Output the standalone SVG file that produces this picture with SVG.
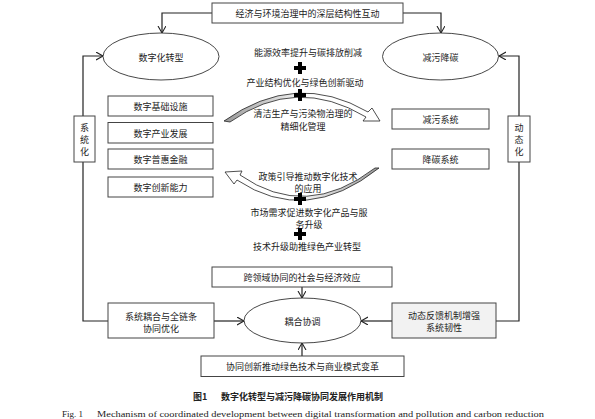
<svg xmlns="http://www.w3.org/2000/svg" width="595" height="419" viewBox="0 0 595 419">
<style>
.t{font-family:"Noto Sans CJK SC","Noto Sans",sans-serif;font-size:9px;fill:#222;text-anchor:middle;dominant-baseline:central}
.box{fill:#fff;stroke:#444;stroke-width:1}
.ell{fill:#fff;stroke:#333;stroke-width:0.9}
.ln{fill:none;stroke:#222;stroke-width:1.2}
.cv{stroke:#222;stroke-width:0.8}
</style>
<defs>
<marker id="ah" markerWidth="10" markerHeight="10" refX="7" refY="4" orient="auto" markerUnits="userSpaceOnUse">
<path d="M0,0 L7,4 L0,8" fill="none" stroke="#222" stroke-width="1.1"/>
</marker>
<linearGradient id="g1" x1="0" y1="0" x2="1" y2="0">
<stop offset="0" stop-color="#999"/><stop offset="0.55" stop-color="#fff"/><stop offset="1" stop-color="#fff"/>
</linearGradient>
<linearGradient id="g2" x1="1" y1="0" x2="0" y2="0">
<stop offset="0" stop-color="#999"/><stop offset="0.55" stop-color="#fff"/><stop offset="1" stop-color="#fff"/>
</linearGradient>
<path id="plus" d="M-2,-6 H2 V-2 H6 V2 H2 V6 H-2 V2 H-6 V-2 H-2 Z" fill="#000"/>
</defs>

<g id="connectors">
<path class="ln" d="M212,13 H162 V33" marker-end="url(#ah)"/>
<path class="ln" d="M403,13 H441 V33" marker-end="url(#ah)"/>
<path class="ln" d="M108,321 H83 V56 H103" marker-end="url(#ah)"/>
<path class="ln" d="M496,321 H519 V56 H499" marker-end="url(#ah)"/>
<path class="ln" d="M214,321 H244" marker-end="url(#ah)"/>
<path class="ln" d="M392,321 H361" marker-end="url(#ah)"/>
<path class="ln" d="M302,287 V298" marker-end="url(#ah)"/>
<path class="ln" d="M302,356 V343" marker-end="url(#ah)"/>
</g>

<g id="top-box">
<rect class="box" x="212" y="3" width="191" height="20"/>
<text class="t" x="307.5" y="13">经济与环境治理中的深层结构性互动</text>
</g>

<g id="digital">
<ellipse class="ell" cx="161" cy="56.5" rx="58" ry="23.5"/>
<text class="t" x="161" y="57">数字化转型</text>
</g>
<g id="reduction">
<ellipse class="ell" cx="440.5" cy="56.5" rx="58" ry="23.5"/>
<text class="t" x="440.5" y="57">减污降碳</text>
</g>

<g id="systematize">
<rect class="box" x="74" y="116" width="21" height="46"/>
<text class="t" x="84.5" y="127.5">系</text>
<text class="t" x="84.5" y="139.5">统</text>
<text class="t" x="84.5" y="151.5">化</text>
</g>
<g id="dynamize">
<rect class="box" x="508" y="116" width="22" height="46"/>
<text class="t" x="519" y="127.5">动</text>
<text class="t" x="519" y="139.5">态</text>
<text class="t" x="519" y="151.5">化</text>
</g>

<g id="d1"><rect class="box" x="108" y="96" width="105" height="20"/><text class="t" x="160.5" y="106">数字基础设施</text></g>
<g id="d2"><rect class="box" x="108" y="122.5" width="105" height="20.5"/><text class="t" x="160.5" y="133">数字产业发展</text></g>
<g id="d3"><rect class="box" x="108" y="149" width="105" height="20"/><text class="t" x="160.5" y="159">数字普惠金融</text></g>
<g id="d4"><rect class="box" x="108" y="177" width="105" height="20"/><text class="t" x="160.5" y="187">数字创新能力</text></g>

<g id="r1"><rect class="box" x="392" y="109" width="97" height="20"/><text class="t" x="440.5" y="119">减污系统</text></g>
<g id="r2"><rect class="box" x="392" y="149" width="97" height="20"/><text class="t" x="440.5" y="159">降碳系统</text></g>

<g id="upper-mechanism">
<text class="t" x="308" y="52">能源效率提升与碳排放削减</text>
<use href="#plus" x="300" y="68"/>
<text class="t" x="305" y="82">产业结构优化与绿色创新驱动</text>
<path class="cv" fill="url(#g1)" d="M224,121 Q296,70 368,112 L372,108 L380,121 L363,121 L366,117 Q296,75 230,122 Z"/>
<use href="#plus" x="300" y="95"/>
<text class="t" x="303" y="113">清洁生产与污染物治理的</text>
<text class="t" x="303" y="126">精细化管理</text>
</g>

<g id="lower-mechanism">
<path class="cv" fill="url(#g2)" d="M379,168 Q306,226 237,180 L234,184 L225,172 L242,171 L240,175 Q306,221 375,168 Z"/>
<text class="t" x="308" y="176">政策引导推动数字化技术</text>
<text class="t" x="308" y="188">的应用</text>
<use href="#plus" x="300" y="199"/>
<text class="t" x="309" y="212">市场需求促进数字化产品与服</text>
<text class="t" x="309" y="224">务升级</text>
<use href="#plus" x="300" y="234"/>
<text class="t" x="307" y="246">技术升级助推绿色产业转型</text>
</g>

<g id="cross-domain"><rect class="box" x="212" y="267" width="180" height="20"/><text class="t" x="302" y="277">跨领域协同的社会与经济效应</text></g>

<g id="sys-coupling"><rect class="box" x="108" y="303" width="106" height="35"/>
<text class="t" x="161" y="316">系统耦合与全链条</text>
<text class="t" x="161" y="328">协同优化</text></g>

<g id="coupling">
<ellipse class="ell" cx="302.5" cy="320.5" rx="58.5" ry="22.5"/>
<text class="t" x="302.5" y="321">耦合协调</text>
</g>

<g id="feedback"><rect class="box" x="392" y="303" width="104" height="35" style="fill:#f2f2f2"/>
<text class="t" x="444" y="315">动态反馈机制增强</text>
<text class="t" x="444" y="327">系统韧性</text></g>

<g id="innovation"><rect class="box" x="201" y="356" width="203" height="20.5"/><text class="t" x="302.5" y="366.5">协同创新推动绿色技术与商业模式变革</text></g>

<g id="caption">
<text x="193" y="396" style="font-family:'Noto Sans CJK SC',sans-serif;font-size:9px;font-weight:bold;fill:#222;dominant-baseline:central">图1<tspan x="221">数字化转型与减污降碳协同发展作用机制</tspan></text>
<text y="414" style="font-family:'Liberation Serif',serif;font-size:9px;fill:#222;dominant-baseline:central"><tspan x="62">Fig. 1</tspan><tspan x="97" textLength="447" lengthAdjust="spacingAndGlyphs">Mechanism of coordinated development between digital transformation and pollution and carbon reduction</tspan></text>
</g>
</svg>
